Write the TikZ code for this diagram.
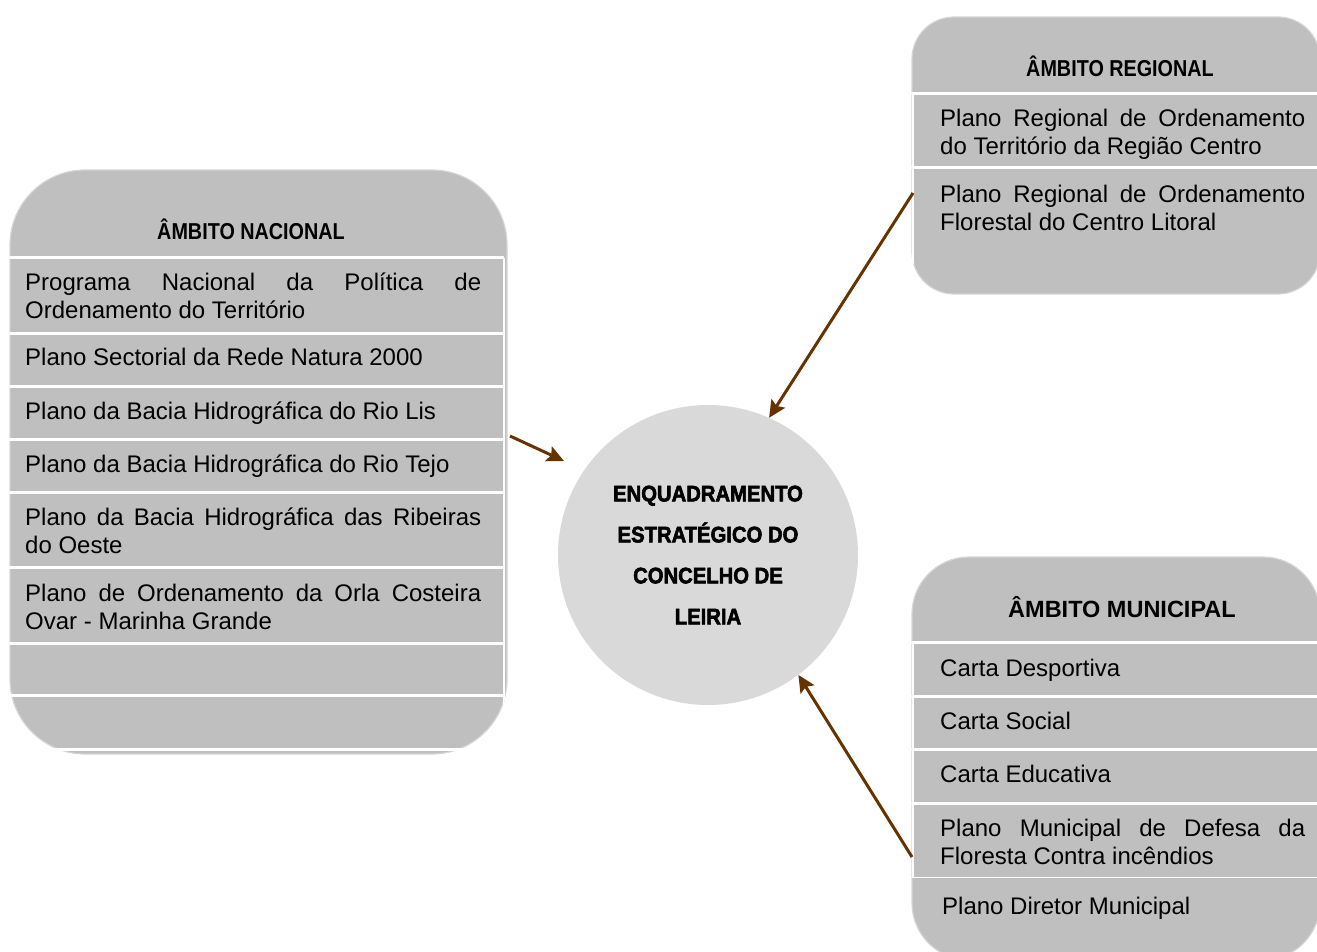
\documentclass[tikz,border=0pt]{standalone}
\usepackage{fontspec}
\setmainfont{Liberation Sans}
\newfontfamily\hdnarrow{Liberation Sans Bold}[FakeStretch=0.86]
\newfontfamily\ctrfont{Liberation Sans Bold}[FakeStretch=0.9,FakeBold=2.5]
\usetikzlibrary{arrows.meta}
\definecolor{boxgray}{RGB}{191,191,191}
\definecolor{boxedge}{RGB}{214,214,214}
\definecolor{circgray}{RGB}{217,217,217}
\definecolor{arrbrown}{RGB}{102,51,0}
\hyphenpenalty=10000
\exhyphenpenalty=10000
\tolerance=10000
\hbadness=10000
\begin{document}
\begin{tikzpicture}[x=1pt,y=-1pt,
  box/.style={rectangle, fill=boxgray, draw=boxedge, line width=1.2pt, inner sep=0pt},
  sep/.style={white, line width=3pt},
  vsep/.style={white, line width=1.2pt},
  item/.style={anchor=base west, inner sep=0pt, align=justify, font=\fontsize{24}{28}\selectfont},
  itemL/.style={item, text width=456pt},
  itemR/.style={item, text width=365pt},
  hdr/.style={anchor=base, inner sep=0pt},
  arr/.style={arrbrown, line width=3pt, -{Stealth[length=17pt,width=16pt,inset=3pt]}}
]
\useasboundingbox (0,0) rectangle (1317,952);

% ---------- left box: Ambito nacional ----------
\node[box, rounded corners=75pt, minimum width=497pt, minimum height=584pt] (nac) at (258.5,462) {};
\begin{scope}
  \clip[rounded corners=75pt] (nac.north west) rectangle (nac.south east);
  \foreach \y in {257.5,333,386,439,492,567,643,695.5,749}
    \draw[sep] (0,\y) -- (504,\y);
  \draw[vsep] (504,257.5) -- (504,749);
\end{scope}
\node[hdr, font=\hdnarrow\fontsize{23}{28}\selectfont] (nach) at (251,240) {ÂMBITO NACIONAL};
\node[itemL] (n1) at (25,290.5) {Programa Nacional da Política de\linebreak Ordenamento do Território};
\node[itemL] (n2) at (25,365.5) {Plano Sectorial da Rede Natura 2000};
\node[itemL] (n3) at (25,419.5) {Plano da Bacia Hidrográfica do Rio Lis};
\node[itemL] (n4) at (25,472.5) {Plano da Bacia Hidrográfica do Rio Tejo};
\node[itemL] (n5) at (25,525.5) {Plano da Bacia Hidrográfica das Ribeiras\linebreak do Oeste};
\node[itemL] (n6) at (25,601.5) {Plano de Ordenamento da Orla Costeira\linebreak Ovar - Marinha Grande};

% ---------- top right box: Ambito regional ----------
\node[box, rounded corners=42pt, minimum width=408pt, minimum height=277pt] (reg) at (1116,155.5) {};
\begin{scope}
  \clip[rounded corners=42pt] (reg.north west) rectangle (reg.south east);
  \foreach \y in {93.5,168}
    \draw[sep] (905,\y) -- (1325,\y);
  \draw[vsep] (913,93.5) -- (913,264);
\end{scope}
\node[hdr, font=\hdnarrow\fontsize{23}{28}\selectfont] (regh) at (1120,77) {ÂMBITO REGIONAL};
\node[itemR] (r1) at (940,126.5) {Plano Regional de Ordenamento\linebreak do Território da Região Centro};
\node[itemR] (r2) at (940,202.5) {Plano Regional de Ordenamento\linebreak Florestal do Centro Litoral};

% ---------- bottom right box: Ambito municipal ----------
\node[box, rounded corners=57pt, minimum width=408pt, minimum height=403pt] (mun) at (1116,758.5) {};
\begin{scope}
  \clip[rounded corners=57pt] (mun.north west) rectangle (mun.south east);
  \foreach \y in {642,696,749,803}
    \draw[sep] (905,\y) -- (1325,\y);
  \draw[white, line width=1.5pt] (905,877.5) -- (1325,877.5);
  \draw[vsep] (913,642) -- (913,877.5);
\end{scope}
\node[hdr, font=\bfseries\fontsize{23.5}{28}\selectfont] (munh) at (1122,617.5) {ÂMBITO MUNICIPAL};
\node[itemR] (m1) at (940,676.5) {Carta Desportiva};
\node[itemR] (m2) at (940,729.5) {Carta Social};
\node[itemR] (m3) at (940,782.5) {Carta Educativa};
\node[itemR] (m4) at (940,836.5) {Plano Municipal de Defesa da\linebreak Floresta Contra incêndios};
\node[itemR] (m5) at (942,914.5) {Plano Diretor Municipal};

% ---------- centre circle ----------
\node[circle, fill=circgray, minimum size=300pt, inner sep=0pt, align=center,
      font=\ctrfont\fontsize{22.5}{41}\selectfont] (circ) at (708,555)
      {ENQUADRAMENTO\\ESTRATÉGICO DO\\CONCELHO DE\\LEIRIA};

% ---------- connectors ----------
\coordinate (a1s) at (510,436);
\coordinate (a1e) at (564,461);
\coordinate (a2s) at (913,193);
\coordinate (a3s) at (912,857);
\draw[arr] (a1s) -- (a1e);
\draw[arr] (a2s) -- (circ.66);
\draw[arr] (a3s) -- (circ.-53);
\end{tikzpicture}
\end{document}
